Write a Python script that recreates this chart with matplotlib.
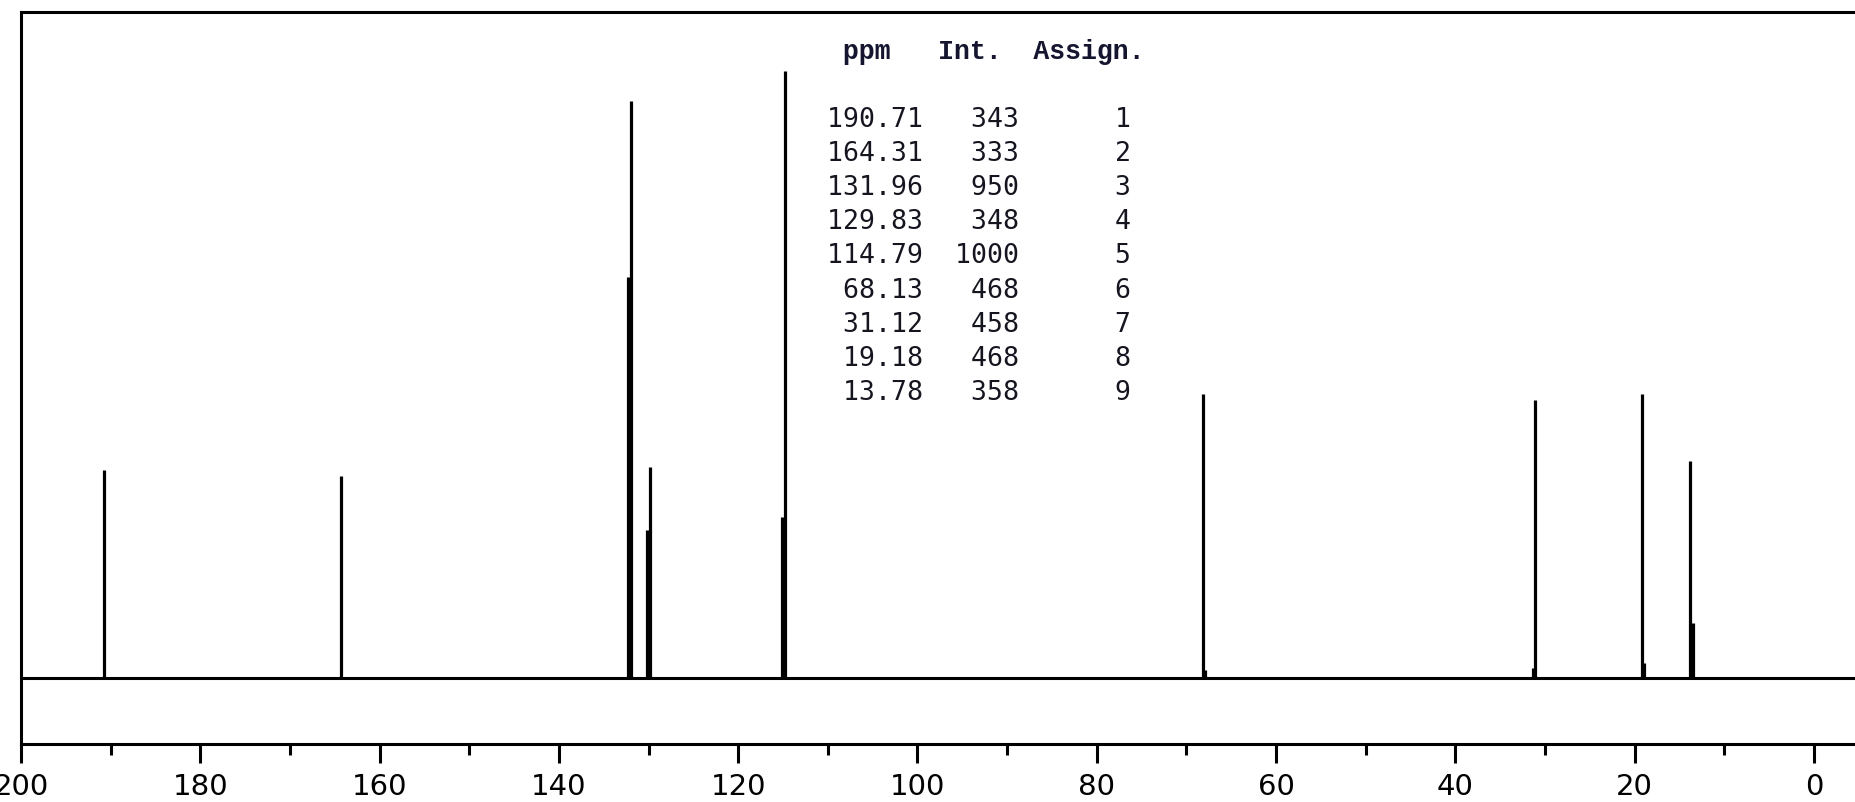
import numpy as np
import matplotlib
matplotlib.use("Agg")
import matplotlib.pyplot as plt
from matplotlib.ticker import MultipleLocator

# peak table (ppm, intensity, assignment)
peak_ppm = [190.71, 164.31, 131.96, 129.83, 114.79, 68.13, 31.12, 19.18, 13.78]
peak_int = [343, 333, 950, 348, 1000, 468, 458, 468, 358]
assign = [1, 2, 3, 4, 5, 6, 7, 8, 9]

# lower side lines visible next to some peaks
shoulder_ppm = [132.26, 130.13, 115.09, 67.95, 31.30, 19.00, 13.46]
shoulder_int = [661, 244, 265, 14, 16, 25, 90]

fig = plt.figure(figsize=(18.56, 8.02), dpi=100)
ax = fig.add_axes([21 / 1856, 58 / 802, 1 - 21 / 1856, 732.5 / 802])

ax.axhline(0, color="black", lw=2.2)
ax.vlines(peak_ppm, 0, peak_int, color="black", lw=2.3)
ax.vlines(shoulder_ppm, 0, shoulder_int, color="black", lw=2.3)

ax.set_xlim(200, -4.7)
ax.set_ylim(-108.7, 1098)

ax.xaxis.set_major_locator(MultipleLocator(20))
ax.xaxis.set_minor_locator(MultipleLocator(10))
ax.tick_params(axis="x", which="major", direction="out", length=13.7, width=2.2, pad=7,
               labelsize=21, colors="black")
ax.tick_params(axis="x", which="minor", direction="out", length=8, width=2.2)
ax.set_yticks([])
for s in ["left", "top", "bottom"]:
    ax.spines[s].set_linewidth(2.2)
ax.spines["right"].set_visible(False)

# peak table text
x0 = 827 / 1856
fig.text(x0, 1 - 59 / 802, " ppm   Int.  Assign.", family="Liberation Mono", weight="bold",
         fontsize=19.1, color="#151530", ha="left", va="baseline")
for i in range(len(peak_ppm)):
    row = f"{peak_ppm[i]:6.2f}{peak_int[i]:6d}{assign[i]:7d}"
    fig.text(x0, 1 - (127 + 34.1 * i) / 802, row, family="DejaVu Sans Mono",
             fontsize=19.1, color="#151520", ha="left", va="baseline")

fig.savefig("out.png", dpi=100)
